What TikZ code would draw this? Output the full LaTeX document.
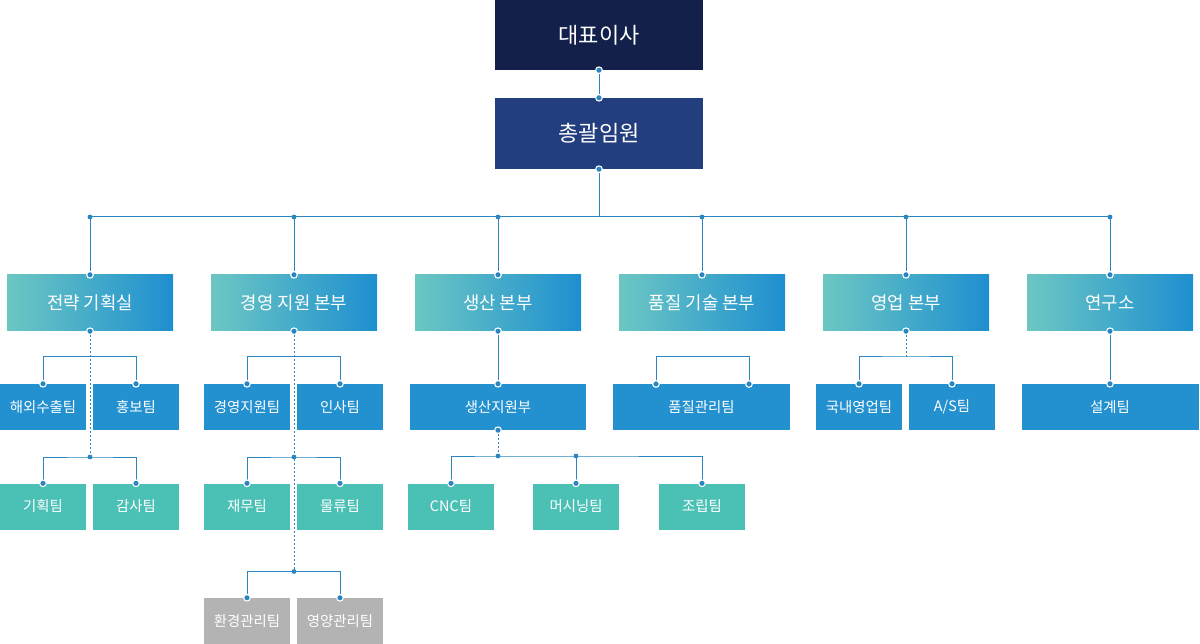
\documentclass[tikz,border=0pt]{standalone}
\usepackage{fontspec}
\setmainfont{Noto Sans CJK KR}
\definecolor{ceoc}{HTML}{13204A}
\definecolor{gmc}{HTML}{233E7F}
\definecolor{gradl}{HTML}{6CC7C3}
\definecolor{gradr}{HTML}{1E8FD0}
\definecolor{bluec}{HTML}{2390D0}
\definecolor{tealc}{HTML}{4BC1B6}
\definecolor{grayc}{HTML}{B3B3B3}
\definecolor{lc}{HTML}{2A86C0}
\begin{document}
\begin{tikzpicture}[x=1pt,y=-1pt,
  box/.style={inner sep=0pt, text=white, align=center},
  topbox/.style={box, minimum width=208pt, font=\fontsize{22}{26}\selectfont},
  divbox/.style={box, minimum width=166pt, minimum height=56pt, left color=gradl, right color=gradr, font=\fontsize{17.8}{21}\selectfont},
  teambox/.style={box, minimum width=86pt, minimum height=46pt, font=\fontsize{14.4}{17}\selectfont},
  widebox/.style={teambox, minimum width=177pt},
  ln/.style={draw=lc, line width=1pt},
  dl/.style={ln, dash pattern=on 2pt off 2pt},
  ringdot/.style={fill=lc, draw=white, line width=1.1pt},
  jdot/.style={fill=lc}
]
\useasboundingbox (0,0) rectangle (1200,644);

% top
\node[topbox, fill=ceoc, minimum height=70pt] (ceo) at (599,35) {대표이사};
\node[topbox, fill=gmc, minimum height=71pt] (gm) at (599,133.5) {총괄임원};

% divisions
\node[divbox] (d1) at (90,303) {전략 기획실};
\node[divbox] (d2) at (294,303) {경영 지원 본부};
\node[divbox] (d3) at (498,303) {생산 본부};
\node[divbox] (d4) at (702,303) {품질 기술 본부};
\node[divbox] (d5) at (906,303) {영업 본부};
\node[divbox] (d6) at (1110,303) {연구소};

% level 3
\node[teambox, fill=bluec] (a1) at (43,407) {해외수출팀};
\node[teambox, fill=bluec] (a2) at (136,407) {홍보팀};
\node[teambox, fill=bluec] (b1) at (247,407) {경영지원팀};
\node[teambox, fill=bluec] (b2) at (340,407) {인사팀};
\node[widebox, fill=bluec, minimum width=176pt] (c1) at (498,407) {생산지원부};
\node[widebox, fill=bluec] (q1) at (701.5,407) {품질관리팀};
\node[teambox, fill=bluec] (e1) at (859,407) {국내영업팀};
\node[teambox, fill=bluec] (e2) at (952,407) {A/S팀};
\node[widebox, fill=bluec] (r1) at (1110,407) {설계팀};

% level 4
\node[teambox, fill=tealc] (a3) at (43,506.5) {기획팀};
\node[teambox, fill=tealc] (a4) at (136,506.5) {감사팀};
\node[teambox, fill=tealc] (b3) at (247,506.5) {재무팀};
\node[teambox, fill=tealc] (b4) at (340,506.5) {물류팀};
\node[teambox, fill=tealc] (c2) at (451,506.5) {CNC팀};
\node[teambox, fill=tealc] (c3) at (576,506.5) {머시닝팀};
\node[teambox, fill=tealc] (c4) at (702,506.5) {조립팀};

% level 5
\node[teambox, fill=grayc] (b5) at (247,621) {환경관리팀};
\node[teambox, fill=grayc] (b6) at (340,621) {영양관리팀};

% bus coordinates
\coordinate (bus) at (599,217);
\coordinate (k1) at (90,217);
\coordinate (k2) at (294,217);
\coordinate (k3) at (498,217);
\coordinate (k4) at (702,217);
\coordinate (k5) at (906,217);
\coordinate (k6) at (1110,217);
\coordinate (ja) at (90,457);
\coordinate (jb) at (294,457);
\coordinate (jb2) at (294,571.5);
\coordinate (jc) at (498,456);
\coordinate (jc2) at (576,456);
\coordinate (je) at (906,357);
\coordinate (qa) at (656,384);
\coordinate (qb) at (749,384);

% connectors
\draw[ln] (ceo.south) -- (gm.north);
\draw[ln] (gm.south) -- (bus);
\draw[ln] (k1) -- (k6);
\foreach \i in {1,...,6} \draw[ln] (k\i) -- (d\i.north);

% 전략 기획실
\draw[dl] (d1.south) -- (ja);
\draw[ln] (a1.north) -- ++(0,-27) -| (a2.north);
\draw[ln] (a3.north) |- (ja) -| (a4.north);

% 경영 지원 본부
\draw[dl] (d2.south) -- (jb2);
\draw[ln] (b1.north) -- ++(0,-27) -| (b2.north);
\draw[ln] (b3.north) |- (jb) -| (b4.north);
\draw[ln] (b5.north) |- (jb2) -| (b6.north);

% 생산 본부
\draw[ln] (d3.south) -- (c1.north);
\draw[dl] (c1.south) -- (jc);
\draw[ln] (c2.north) |- (jc) -- (jc2) -| (c4.north);
\draw[ln] (jc2) -- (c3.north);

% 품질 기술 본부
\draw[ln] (qa) -- ++(0,-27) -| (qb);

% 영업 본부
\draw[dl] (d5.south) -- (je);
\draw[ln] (e1.north) |- (je) -| (e2.north);

% 연구소
\draw[ln] (d6.south) -- (r1.north);

% junction dots
\foreach \p in {k1,k2,k3,k4,k5,k6,ja,jb,jb2,jc,jc2}
  \fill[jdot] (\p) circle (2.4pt);

% ring dots
\foreach \p in {ceo.south,gm.north,gm.south,
  d1.north,d2.north,d3.north,d4.north,d5.north,d6.north,
  d1.south,d2.south,d3.south,d5.south,d6.south,
  a1.north,a2.north,a3.north,a4.north,
  b1.north,b2.north,b3.north,b4.north,b5.north,b6.north,
  c1.north,c1.south,c2.north,c3.north,c4.north,
  qa,qb,e1.north,e2.north,r1.north}
  \filldraw[ringdot] (\p) circle (3.3pt);
\end{tikzpicture}
\end{document}
